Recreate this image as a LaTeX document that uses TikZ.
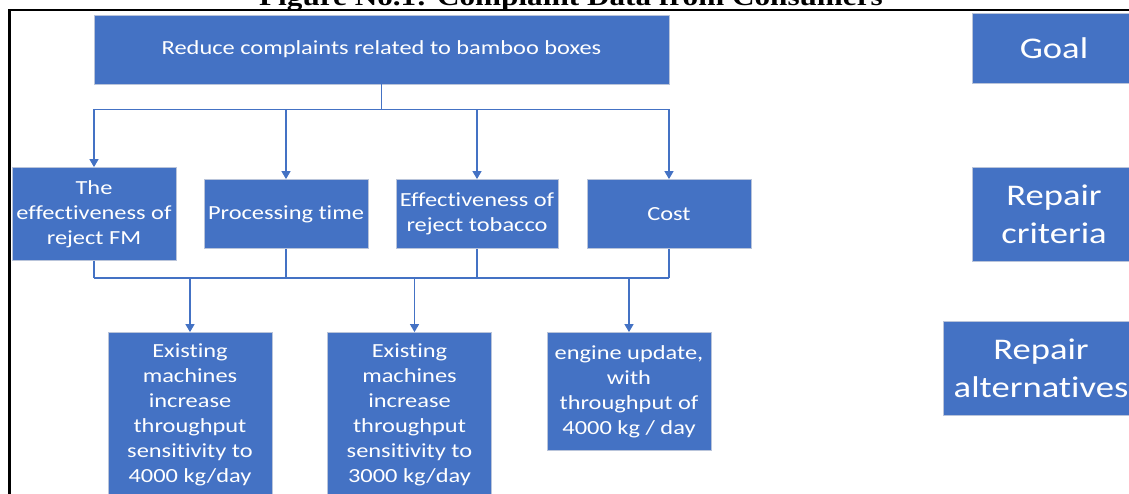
\documentclass[tikz,border=0pt]{standalone}
\usepackage{fontspec}
\usetikzlibrary{arrows.meta}
\newfontfamily\boxfont[FakeStretch=1.22,Ligatures=NoCommon]{Carlito}
\newfontfamily\capfont[FakeStretch=1.2]{Liberation Serif}
\definecolor{officeblue}{HTML}{4472C4}
\definecolor{boxrim}{HTML}{B9C4DA}

\begin{document}
\begin{tikzpicture}[x=1pt,y=-1pt,>={Triangle[width=9pt,length=8pt]},
	box/.style={rectangle, fill=officeblue, draw=boxrim, line width=0.8pt, text=white,
		align=center, inner sep=0pt, font=\boxfont\fontsize{20}{25}\selectfont},
	bigbox/.style={box, font=\boxfont\fontsize{30}{38}\selectfont},
	link/.style={draw=officeblue, line width=1.3pt}]

\useasboundingbox (0,0) rectangle (1129,493);
\clip (0,0) rectangle (1129,493);

%----------------------------
% Caption and frame
%----------------------------
\node[anchor=base, font=\capfont\bfseries\fontsize{26}{30}\selectfont] (caption) at (571,5)
	{Figure No.1: Complaint Data from Consumers};
\draw[line width=2.2pt] (9.5,510) -- (9.5,10) -- (1150,10);

%----------------------------
% Goal
%----------------------------
\node[box, minimum width=575pt, minimum height=69pt] (goal) at (381.5,49.5)
	{Reduce complaints related to bamboo boxes};

%----------------------------
% Criteria
%----------------------------
\node[box, minimum width=164pt, minimum height=93pt] (crit1) at (94,214)
	{The\\effectiveness of\\reject FM};
\node[box, minimum width=164pt, minimum height=69pt] (crit2) at (286,214)
	{Processing time};
\node[box, minimum width=162pt, minimum height=69pt] (crit3) at (477,214)
	{Effectiveness of\\reject tobacco};
\node[box, minimum width=164pt, minimum height=69pt] (crit4) at (669,214)
	{Cost};

%----------------------------
% Alternatives
%----------------------------
\node[box, minimum width=164pt, minimum height=165pt] (alt1) at (190,415)
	{Existing\\machines\\increase\\throughput\\sensitivity to\\4000 kg/day};
\node[box, minimum width=164pt, minimum height=165pt] (alt2) at (409.5,415)
	{Existing\\machines\\increase\\throughput\\sensitivity to\\3000 kg/day};
\node[box, minimum width=164pt, minimum height=118pt] (alt3) at (629,391.5)
	{engine update,\\with\\throughput of\\4000 kg / day};

%----------------------------
% Legend on the right
%----------------------------
\node[bigbox, minimum width=164pt, minimum height=70pt] (lgoal) at (1054,48.5) {Goal};
\node[bigbox, minimum width=164pt, minimum height=94pt] (lcrit) at (1054,214.5) {Repair\\criteria};
\node[bigbox, minimum width=196pt, minimum height=94pt] (lalt) at (1041,368.5) {Repair\\alternatives};

%----------------------------
% Connectors
%----------------------------
% goal -> criteria
\draw[link] (goal.south) -- ++(0,25) coordinate (split);
\draw[link] (crit1.north |- split) -- (crit4.north |- split);
\foreach \n in {crit1,crit2,crit3,crit4}
	\draw[link,->] (\n.north |- split) -- (\n.north);

% criteria -> alternatives
\coordinate (join) at (0,278);
\foreach \n in {crit1,crit2,crit3,crit4}
	\draw[link] (\n.south) -- (\n.south |- join);
\draw[link] (crit1.south |- join) -- (crit4.south |- join);
\draw[link,->] (alt1.north |- join) -- (alt1.north);
\draw[link,->] ([xshift=5pt]alt2.north |- join) -- ([xshift=5pt]alt2.north);
\draw[link,->] (alt3.north |- join) -- (alt3.north);
\end{tikzpicture}
\end{document}
